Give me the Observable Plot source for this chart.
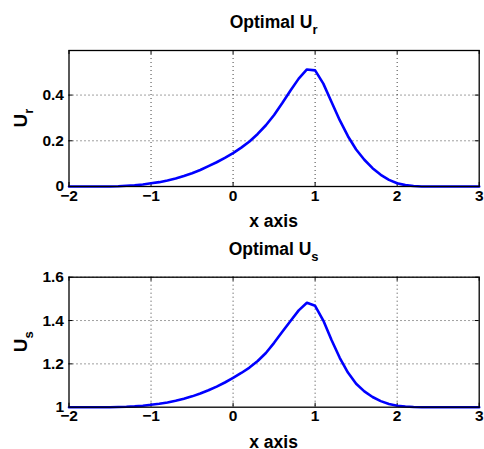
<!DOCTYPE html>
<html>
<head>
<meta charset="utf-8">
<script src="https://cdn.jsdelivr.net/npm/d3@7"></script>
<script src="https://cdn.jsdelivr.net/npm/@observablehq/plot@0.6"></script>
<style>
  html, body { margin: 0; padding: 0; background: #fff; }
  #chart svg { display: block; }
</style>
</head>
<body>
<div id="chart"></div>
<script>
const xs = [-2.0,-1.9,-1.8,-1.7,-1.6,-1.5,-1.4,-1.3,-1.2,-1.1,-1.0,-0.9,-0.8,-0.7,-0.6,-0.5,-0.4,-0.3,-0.2,-0.1,
  0.0,0.1,0.2,0.3,0.4,0.5,0.6,0.7,0.8,0.9,1.0,1.1,1.2,1.3,1.4,1.5,1.6,1.7,1.8,1.9,
  2.0,2.1,2.2,2.3,2.4,2.5,2.6,2.7,2.8,2.9,3.0];
const ur = [0,0,0,0,0,0,0.001,0.003,0.005,0.009,0.014,0.019,0.026,0.035,0.046,0.058,0.072,0.089,0.106,0.125,
  0.146,0.17,0.197,0.23,0.268,0.313,0.365,0.42,0.472,0.512,0.508,0.45,0.37,0.29,0.22,0.162,0.117,0.08,0.051,0.029,
  0.014,0.006,0.002,0,0,0,0,0,0,0,0];
const us = [1,1,1,1,1,1,1.001,1.002,1.004,1.007,1.011,1.016,1.022,1.03,1.039,1.05,1.063,1.078,1.095,1.114,
  1.135,1.158,1.183,1.213,1.25,1.297,1.348,1.398,1.447,1.482,1.468,1.4,1.31,1.228,1.16,1.108,1.073,1.047,1.028,1.015,
  1.007,1.003,1.001,1,1,1,1,1,1,1,1];
const xTicks = [-2,-1,0,1,2,3];
const urTicks = [0,0.2,0.4];
const usTicks = [1,1.2,1.4,1.6];
const titles = [["Optimal U","r"],["Optimal U","s"]];
const yLabels = [["U","r"],["U","s"]];
const xLabel = "x axis";

const FONT = "'Liberation Sans', Arial, Helvetica, sans-serif";
const W = 484, ML = 68.5, MR = 5.3;
const fmtY = d => String(d);

function panel(values, yDomain, yTicks, h, mt, mb, title, ylab) {
  const data = xs.map((x, i) => ({x, y: values[i]}));
  const ph = h - mt - mb, pw = W - ML - MR;
  const gridStyle = {stroke: "#000", strokeOpacity: 0.75, strokeWidth: 1, strokeDasharray: "1,3"};
  const svg = Plot.plot({
    width: W, height: h,
    marginLeft: ML, marginRight: MR, marginTop: mt, marginBottom: mb,
    style: {fontFamily: FONT, fontWeight: "bold", fontSize: "15px", color: "#000", background: "#fff"},
    x: {domain: [-2, 3], label: null},
    y: {domain: yDomain, label: null},
    marks: [
      Plot.gridX(xTicks.slice(1, -1), gridStyle),
      Plot.gridY(yTicks.slice(1), gridStyle),
      Plot.axisX(xTicks, {tickSize: 0, tickPadding: 3, fontSize: 15.5, fontWeight: "bold"}),
      Plot.axisY(yTicks, {tickSize: 0, tickPadding: 5, fontSize: 15.5, fontWeight: "bold", tickFormat: fmtY}),
      Plot.tickX(xTicks, {x: d => d, stroke: "#000", insetTop: ph - 4}),
      Plot.tickX(xTicks, {x: d => d, stroke: "#000", insetBottom: ph - 4}),
      Plot.tickY(yTicks, {y: d => d, stroke: "#000", insetRight: pw - 4}),
      Plot.tickY(yTicks, {y: d => d, stroke: "#000", insetLeft: pw - 4}),
      Plot.line(data, {x: "x", y: "y", stroke: "#0000ff", strokeWidth: 2.6, strokeLinejoin: "round"}),
      Plot.frame({stroke: "#000", strokeWidth: 1.3})
    ]
  });
  const s = d3.select(svg);
  const cx = ML + pw / 2;
  const t = s.append("text").attr("x", cx).attr("y", mt - 22)
    .attr("text-anchor", "middle").attr("font-family", FONT).attr("font-weight", "bold")
    .attr("font-size", 17.5).attr("fill", "#000");
  t.append("tspan").text(title[0]);
  t.append("tspan").attr("dy", 6).attr("font-size", 13).text(title[1]);
  s.append("text").attr("x", cx).attr("y", h - mb + 41)
    .attr("text-anchor", "middle").attr("font-family", FONT).attr("font-weight", "bold")
    .attr("font-size", 17.5).attr("fill", "#000").text(xLabel);
  const yl = s.append("text").attr("transform", `translate(27,${mt + ph / 2}) rotate(-90)`)
    .attr("text-anchor", "middle").attr("font-family", FONT).attr("font-weight", "bold")
    .attr("font-size", 19).attr("fill", "#000");
  yl.append("tspan").text(ylab[0]);
  yl.append("tspan").attr("dy", 6).attr("font-size", 13).text(ylab[1]);
  return svg;
}

const el = document.getElementById("chart");
el.append(panel(ur, [0, 0.595], urTicks, 230, 50, 44, titles[0], yLabels[0]));
el.append(panel(us, [1, 1.6], usTicks, 219, 46.7, 42.3, titles[1], yLabels[1]));
</script>
</body>
</html>
